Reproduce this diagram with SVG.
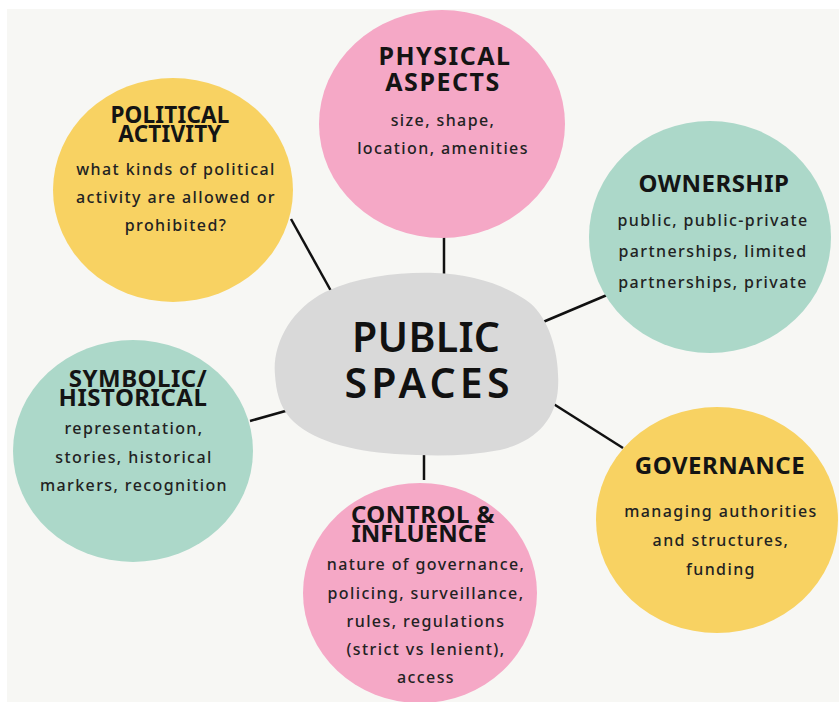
<svg xmlns="http://www.w3.org/2000/svg" width="839" height="702" viewBox="0 0 839 702">
  <style>
    .pink { fill: #f5a8c6; }
    .yellow { fill: #f8d262; }
    .teal { fill: #acd8c9; }
    .hub { fill: #d9d9d9; }
    .title { font-family: "Noto Sans", "Open Sans", sans-serif; font-weight: 700; font-size: 24px; fill: #141414; text-anchor: middle; letter-spacing: 0.5px; }
    .title.wide { font-size: 25px; letter-spacing: 1.5px; }
    .title.narrow { font-size: 22.5px; letter-spacing: 0.2px; }
    .body { font-family: "Noto Sans", "Open Sans", sans-serif; font-weight: 500; font-size: 16px; fill: #222; text-anchor: middle; letter-spacing: 1.4px; }
    .hubtext { font-family: "Noto Sans", "Open Sans", sans-serif; font-weight: 600; font-size: 41px; fill: #111; text-anchor: middle; }
    .link { stroke: #111; stroke-width: 2.5; fill: none; }
  </style>

  <!-- page -->
  <rect x="0" y="0" width="839" height="702" fill="#ffffff"/>
  <rect x="7" y="9" width="832" height="693" fill="#f7f7f4"/>

  <!-- connectors -->
  <g id="connectors">
    <line class="link" x1="291" y1="219" x2="331" y2="291"/>
    <line class="link" x1="444" y1="236" x2="444" y2="275"/>
    <line class="link" x1="607" y1="295" x2="543" y2="322"/>
    <line class="link" x1="250" y1="421" x2="289" y2="410"/>
    <line class="link" x1="552" y1="403" x2="623" y2="448"/>
    <line class="link" x1="424" y1="450" x2="424" y2="480"/>
  </g>

  <!-- centre -->
  <g id="public-spaces">
    <path class="hub" d="M275,375 C272,345 290,310 325,292 C360,276 400,272 435,273 C470,274 505,284 530,303 C550,320 560,355 558,388 C556,420 535,442 500,450 C465,457 430,456 395,454 C350,451 310,440 290,418 C279,405 276,390 275,375 Z"/>
    <text class="hubtext"><tspan x="426" y="352" textLength="148">PUBLIC</tspan><tspan x="427" y="398" textLength="165">SPACES</tspan></text>
  </g>

  <g id="physical-aspects">
    <ellipse class="pink" cx="442" cy="124" rx="123" ry="114"/>
    <text class="title wide"><tspan x="445" y="65">PHYSICAL</tspan><tspan x="443" y="91">ASPECTS</tspan></text>
    <text class="body" x="443" y="126">size, shape,</text>
    <text class="body" x="443" y="154">location, amenities</text>
  </g>

  <g id="political-activity">
    <ellipse class="yellow" cx="173" cy="190" rx="120" ry="112"/>
    <text class="title narrow"><tspan x="170" y="123">POLITICAL</tspan><tspan x="170" y="142">ACTIVITY</tspan></text>
    <text class="body" x="176" y="175">what kinds of political</text>
    <text class="body" x="176" y="203">activity are allowed or</text>
    <text class="body" x="176" y="231">prohibited?</text>
  </g>

  <g id="ownership">
    <ellipse class="teal" cx="710" cy="237" rx="121" ry="116"/>
    <text class="title" x="714" y="192">OWNERSHIP</text>
    <text class="body" x="713" y="226">public, public-private</text>
    <text class="body" x="713" y="257">partnerships, limited</text>
    <text class="body" x="713" y="288">partnerships, private</text>
  </g>

  <g id="symbolic-historical">
    <ellipse class="teal" cx="133" cy="451" rx="120" ry="111"/>
    <text class="title"><tspan x="138" y="387">SYMBOLIC/</tspan><tspan x="133" y="406">HISTORICAL</tspan></text>
    <text class="body" x="134" y="434">representation,</text>
    <text class="body" x="134" y="463">stories, historical</text>
    <text class="body" x="134" y="491">markers, recognition</text>
  </g>

  <g id="governance">
    <ellipse class="yellow" cx="717" cy="520" rx="121" ry="113"/>
    <text class="title" x="720" y="474" letter-spacing="1">GOVERNANCE</text>
    <text class="body" x="721" y="517">managing authorities</text>
    <text class="body" x="721" y="546">and structures,</text>
    <text class="body" x="721" y="575">funding</text>
  </g>

  <g id="control-influence">
    <ellipse class="pink" cx="420" cy="593" rx="117" ry="110"/>
    <text class="title"><tspan x="423" y="523">CONTROL &amp;</tspan><tspan x="419" y="542" letter-spacing="0">INFLUENCE</tspan></text>
    <text class="body" x="426" y="570">nature of governance,</text>
    <text class="body" x="426" y="599">policing, surveillance,</text>
    <text class="body" x="426" y="627">rules, regulations</text>
    <text class="body" x="426" y="655">(strict vs lenient),</text>
    <text class="body" x="426" y="683">access</text>
  </g>
</svg>
